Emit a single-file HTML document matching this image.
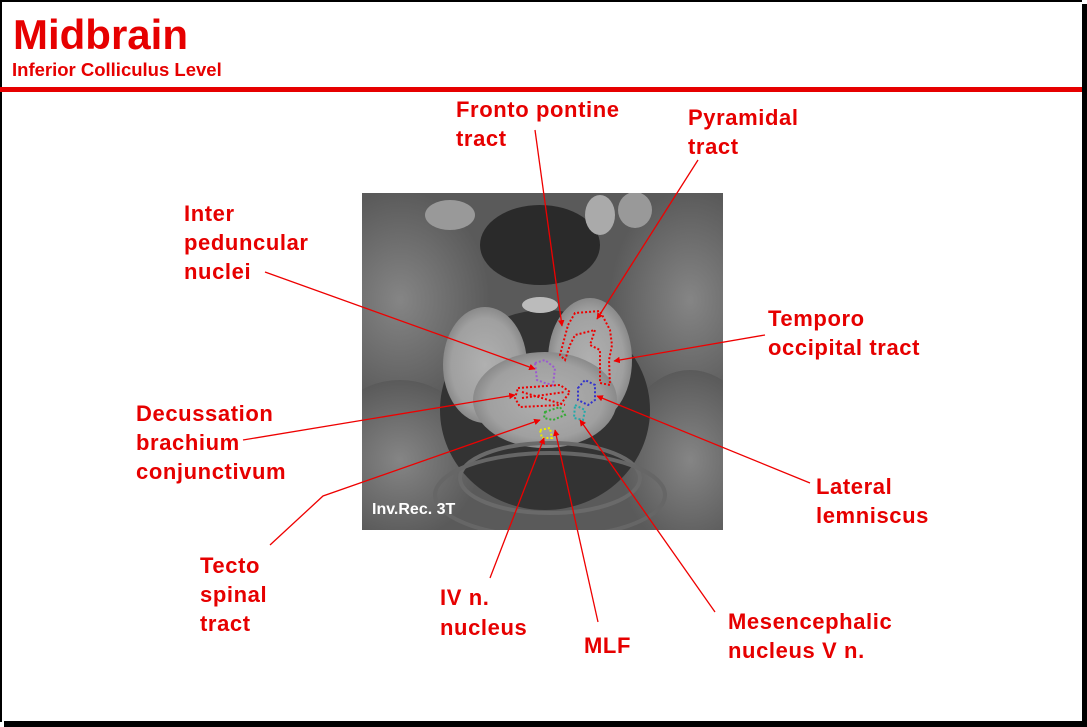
<!DOCTYPE html>
<html><head><meta charset="utf-8"><style>
html,body{margin:0;padding:0;background:#fff}
svg{display:block}
text{font-family:"Liberation Sans",Arial,sans-serif;font-weight:bold;fill:#e60000}
</style></head><body>
<svg width="1087" height="727" viewBox="0 0 1087 727" xmlns="http://www.w3.org/2000/svg">
<defs>
<radialGradient id="bs" cx="50%" cy="50%" r="50%">
<stop offset="0" stop-color="#b0b0b0"/><stop offset="0.8" stop-color="#a0a0a0"/><stop offset="1" stop-color="#8a8a8a"/>
</radialGradient>
<radialGradient id="side" cx="50%" cy="50%" r="50%">
<stop offset="0" stop-color="#858585"/><stop offset="1" stop-color="#5a5a5a"/>
</radialGradient>
<marker id="ah" viewBox="0 0 10 10" refX="9" refY="5" markerWidth="5" markerHeight="5" orient="auto"><path d="M0,0L10,5L0,10z" fill="#e00"/></marker>
<clipPath id="cp"><rect x="362" y="193" width="361" height="337"/></clipPath>
</defs>
<rect x="0" y="0" width="1087" height="727" fill="#fff"/>
<rect x="0" y="0" width="1082" height="2" fill="#000"/>
<rect x="0" y="0" width="2" height="722" fill="#000"/>
<rect x="1082" y="4" width="5" height="723" fill="#000"/>
<rect x="4" y="721" width="1083" height="6" fill="#000"/>
<rect x="0" y="87" width="1082" height="5" fill="#e60000"/>
<text x="13" y="49" font-size="42">Midbrain</text>
<text x="12" y="76" font-size="18.5">Inferior Colliculus Level</text>

<g clip-path="url(#cp)">
<rect x="362" y="193" width="361" height="337" fill="#5a5a5a"/>
<ellipse cx="400" cy="300" rx="90" ry="110" fill="url(#side)"/>
<ellipse cx="690" cy="300" rx="80" ry="110" fill="url(#side)"/>
<ellipse cx="400" cy="460" rx="80" ry="80" fill="url(#side)"/>
<ellipse cx="690" cy="460" rx="70" ry="90" fill="url(#side)"/>
<ellipse cx="540" cy="245" rx="60" ry="40" fill="#2a2a2a"/>
<ellipse cx="450" cy="215" rx="25" ry="15" fill="#999"/>
<ellipse cx="600" cy="215" rx="15" ry="20" fill="#aaa"/>
<ellipse cx="635" cy="210" rx="17" ry="18" fill="#999"/>
<ellipse cx="545" cy="410" rx="105" ry="100" fill="#333"/>
<ellipse cx="485" cy="365" rx="42" ry="58" fill="url(#bs)"/>
<ellipse cx="590" cy="360" rx="42" ry="62" fill="url(#bs)"/>
<ellipse cx="545" cy="400" rx="72" ry="48" fill="url(#bs)"/>
<ellipse cx="540" cy="305" rx="18" ry="8" fill="#bbb"/>
<ellipse cx="550" cy="478" rx="90" ry="35" fill="none" stroke="#6a6a6a" stroke-width="4"/>
<ellipse cx="550" cy="495" rx="115" ry="42" fill="none" stroke="#666" stroke-width="4"/>
<text x="372" y="514" font-size="16" style="fill:#fff">Inv.Rec. 3T</text>
<g fill="none" stroke-width="2" stroke-dasharray="2,2">
<path d="M568,325 L575,313 L600,311 L610,330 L612,345 L609,360 L610,385 L600,383 L600,350 L590,345 L595,330 L575,335 L570,345 L565,360 L560,355 Z" stroke="#e00"/>
<path d="M535,363 L545,360 L555,368 L553,385 L545,383 L537,380 Z" stroke="#9b59d0"/>
<path d="M578,388 L585,380 L595,385 L595,400 L588,405 L578,400 Z" stroke="#33c"/>
<path d="M518,388 L560,385 L570,392 L560,405 L520,407 L515,398 Z M522,398 L565,392 M522,392 L565,405" stroke="#e00"/>
<path d="M545,412 L560,407 L565,415 L553,420 L544,418 Z" stroke="#3a3"/>
<path d="M575,405 L585,410 L583,420 L574,418 Z" stroke="#2aa"/>
<path d="M540,430 L550,428 L552,438 L542,438 Z" stroke="#ee0"/>
</g>
</g>

<g stroke="#e00" stroke-width="1.3" fill="none" marker-end="url(#ah)">
<line x1="535" y1="130" x2="562" y2="326"/>
<line x1="698" y1="160" x2="597" y2="319"/>
<line x1="265" y1="272" x2="535" y2="369"/>
<line x1="765" y1="335" x2="614" y2="361"/>
<line x1="243" y1="440" x2="515" y2="395"/>
<line x1="810" y1="483" x2="597" y2="396"/>
<polyline points="270,545 323,496 540,420"/>
<line x1="490" y1="578" x2="544" y2="438"/>
<line x1="598" y1="622" x2="555" y2="430"/>
<line x1="715" y1="612" x2="580" y2="420"/>
</g>

<g font-size="22" letter-spacing="0.6">
<text x="456" y="117">Fronto pontine</text>
<text x="456" y="146">tract</text>
<text x="688" y="125">Pyramidal</text>
<text x="688" y="154">tract</text>
<text x="184" y="221">Inter</text>
<text x="184" y="250">peduncular</text>
<text x="184" y="279">nuclei</text>
<text x="768" y="326">Temporo</text>
<text x="768" y="355">occipital tract</text>
<text x="136" y="421">Decussation</text>
<text x="136" y="450">brachium</text>
<text x="136" y="479">conjunctivum</text>
<text x="816" y="494">Lateral</text>
<text x="816" y="523">lemniscus</text>
<text x="200" y="573">Tecto</text>
<text x="200" y="602">spinal</text>
<text x="200" y="631">tract</text>
<text x="440" y="605">IV n.</text>
<text x="440" y="635">nucleus</text>
<text x="584" y="653">MLF</text>
<text x="728" y="629">Mesencephalic</text>
<text x="728" y="658">nucleus V n.</text>
</g>
</svg>
</body></html>
